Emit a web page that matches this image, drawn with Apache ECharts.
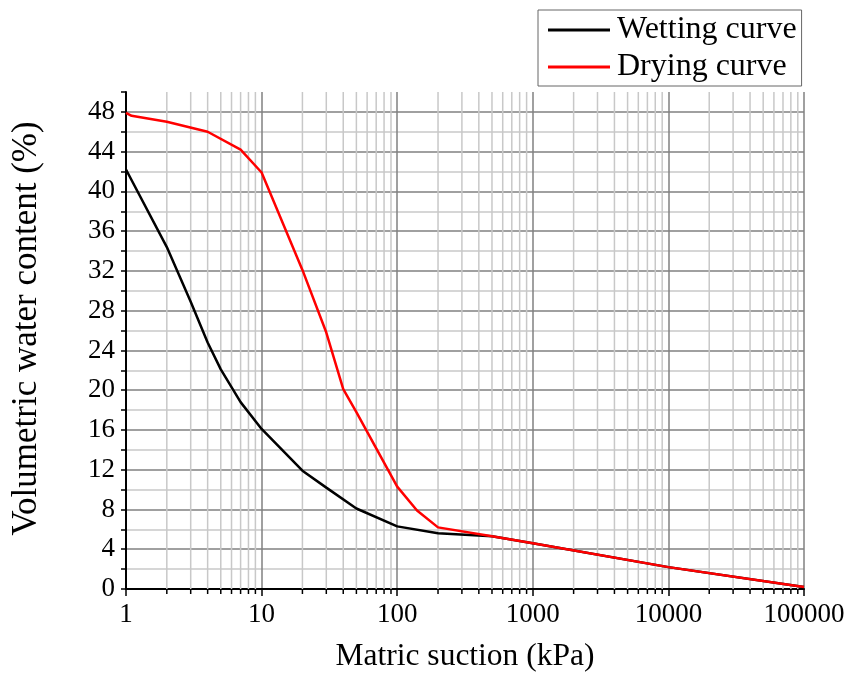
<!DOCTYPE html>
<html>
<head>
<meta charset="utf-8">
<script src="https://cdn.jsdelivr.net/npm/echarts@6/dist/echarts.min.js"></script>
<style>html,body{margin:0;padding:0;background:#fff;}#c{width:860px;height:678px;}</style>
</head>
<body>
<div id="c"></div>
<script>
// Data
const wetX = [1, 2, 3, 4, 5, 7, 10, 20, 30, 50, 100, 200, 500, 1000, 10000, 100000];
const wetY = [42.2, 34.4, 28.9, 24.8, 22.1, 18.8, 16.1, 11.9, 10.2, 8.1, 6.3, 5.6, 5.3, 4.6, 2.2, 0.2];
const dryX = [1, 1.1, 2, 4, 7, 10, 20, 30, 40, 50, 100, 140, 200, 500, 1000, 10000, 100000];
const dryY = [47.9, 47.6, 47.0, 46.0, 44.2, 41.9, 32.1, 25.8, 20.1, 17.8, 10.3, 7.9, 6.2, 5.3, 4.6, 2.2, 0.2];
const seriesNames = ['Wetting curve', 'Drying curve'];
const xTickLabels = ['1', '10', '100', '1000', '10000', '100000'];
const yTickLabels = [0, 4, 8, 12, 16, 20, 24, 28, 32, 36, 40, 44, 48];
// minor log gridline positions (2..9 within each decade)
const decades = [1, 10, 100, 1000, 10000];
const minorMult = [2, 3, 4, 5, 6, 7, 8, 9];
const minorX = [];
decades.forEach(d => minorMult.forEach(m => minorX.push([d * m, 0])));

const FONT = '"Liberation Serif", "Times New Roman", serif';
const chart = echarts.init(document.getElementById('c'), null, {renderer: 'canvas'});

const yColors = [];
for (let v = 0; v <= 50; v += 2) yColors.push(v % 4 === 0 ? '#808080' : '#c8c8c8');

const option = {
  backgroundColor: '#fff',
  animation: false,
  grid: {left: 126, right: 56, top: 92, bottom: 87, containLabel: false},
  legend: {
    data: seriesNames,
    orient: 'vertical',
    left: 538, top: 10,
    padding: [3, 5, 2, 10],
    itemGap: 3,
    itemWidth: 62,
    itemHeight: 3,
    icon: 'rect',
    backgroundColor: '#fff',
    borderColor: '#666',
    borderWidth: 1,
    borderRadius: 0,
    textStyle: {fontFamily: FONT, fontSize: 32, color: '#000', lineHeight: 34, padding: [0, 0, 0, 2]}
  },
  xAxis: {
    type: 'log', logBase: 10, min: 1, max: 100000,
    name: 'Matric suction (kPa)', nameLocation: 'middle', nameGap: 52,
    nameTextStyle: {fontFamily: FONT, fontSize: 31.5, color: '#000'},
    axisLine: {show: true, onZero: false, lineStyle: {color: '#000', width: 2}},
    axisTick: {show: true, inside: false, length: 7, lineStyle: {color: '#000', width: 1.5}},
    axisLabel: {
      fontFamily: FONT, fontSize: 27, color: '#000', margin: 12,
      formatter: v => { const r = Math.round(v); const s = String(r); return xTickLabels.indexOf(s) >= 0 ? s : ''; }
    },
    splitLine: {show: true, lineStyle: {color: '#808080', width: 1.5}},
    minorTick: {show: false}, minorSplitLine: {show: false}
  },
  yAxis: {
    type: 'value', min: 0, max: 50, interval: 2,
    name: 'Volumetric water content (%)', nameLocation: 'middle', nameGap: 82, nameRotate: 90,
    nameTextStyle: {fontFamily: FONT, fontSize: 35, color: '#000', padding: [0, 0, 0, 24]},
    axisLine: {show: true, onZero: false, lineStyle: {color: '#000', width: 2}},
    axisTick: {show: true, inside: false, length: 5, lineStyle: {color: '#000', width: 1.5}},
    axisLabel: {
      fontFamily: FONT, fontSize: 27, color: '#000', margin: 11,
      formatter: v => (yTickLabels.indexOf(v) >= 0 ? String(v) : '')
    },
    splitLine: {show: true, showMaxLine: false, lineStyle: {color: yColors, width: 1.5}}
  },
  series: [
    {
      type: 'custom', name: 'minor', silent: true, z: 1, clip: false,
      data: minorX,
      encode: {x: 0, y: 1},
      renderItem: function (params, api) {
        const cs = params.coordSys;
        const px = api.coord([api.value(0), 0])[0];
        const bottom = cs.y + cs.height;
        return {
          type: 'group',
          children: [
            {type: 'line', shape: {x1: px, y1: cs.y, x2: px, y2: bottom}, style: {stroke: '#c8c8c8', lineWidth: 1.5}},
            {type: 'line', shape: {x1: px, y1: bottom, x2: px, y2: bottom + 5}, style: {stroke: '#000', lineWidth: 1.5}}
          ]
        };
      }
    },
    {
      name: seriesNames[0], type: 'line', symbol: 'none', z: 5,
      lineStyle: {color: '#000', width: 2.5}, itemStyle: {color: '#000'},
      data: wetX.map((x, i) => [x, wetY[i]])
    },
    {
      name: seriesNames[1], type: 'line', symbol: 'none', z: 6,
      lineStyle: {color: '#ff0000', width: 2.5}, itemStyle: {color: '#ff0000'},
      data: dryX.map((x, i) => [x, dryY[i]])
    }
  ]
};
chart.setOption(option);
</script>
</body>
</html>
